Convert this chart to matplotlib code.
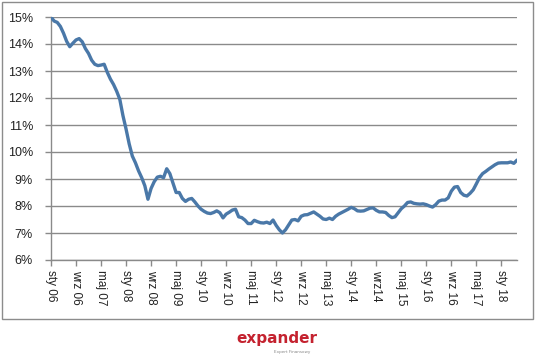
import matplotlib
matplotlib.use("Agg")
import matplotlib.pyplot as plt
from matplotlib.patches import Rectangle
import numpy as np

# monthly values, Jan 2006 .. Jun 2018 (%)
values = [
    15.0, 14.85, 14.8, 14.65, 14.4, 14.1, 13.9, 14.03, 14.15, 14.2,
    14.08, 13.83, 13.65, 13.4, 13.25, 13.2, 13.22, 13.25, 12.95, 12.7,
    12.5, 12.25, 11.95, 11.35, 10.85, 10.3, 9.85, 9.6, 9.3, 9.05,
    8.75, 8.25, 8.65, 8.9, 9.07, 9.1, 9.05, 9.38, 9.2, 8.85,
    8.5, 8.5, 8.28, 8.17, 8.25, 8.28, 8.15, 8.0, 7.88, 7.8,
    7.74, 7.72, 7.76, 7.82, 7.75, 7.56, 7.7, 7.77, 7.85, 7.88,
    7.6, 7.57, 7.48, 7.35, 7.35, 7.47, 7.42, 7.38, 7.37, 7.4,
    7.35, 7.48, 7.28, 7.12, 7.0, 7.12, 7.3, 7.48, 7.5, 7.45,
    7.62, 7.67, 7.68, 7.73, 7.78, 7.7, 7.62, 7.52, 7.5, 7.55,
    7.5, 7.62, 7.7, 7.76, 7.82, 7.88, 7.95, 7.9, 7.82, 7.81,
    7.82, 7.87, 7.92, 7.93, 7.84, 7.78, 7.78, 7.76, 7.65, 7.57,
    7.6, 7.75, 7.9, 8.0, 8.13, 8.15, 8.1, 8.08, 8.07, 8.08,
    8.05, 8.0, 7.96, 8.05, 8.18, 8.22, 8.22, 8.3, 8.55, 8.7,
    8.72, 8.5, 8.4, 8.37, 8.47, 8.6, 8.82, 9.05, 9.2, 9.28,
    9.37, 9.45, 9.53, 9.59, 9.6, 9.6, 9.6, 9.63, 9.58, 9.7,
]
tick_labels = [
    "sty 06", "wrz 06", "maj 07", "sty 08", "wrz 08", "maj 09", "sty 10",
    "wrz 10", "maj 11", "sty 12", "wrz 12", "maj 13", "sty 14", "wrz14",
    "maj 15", "sty 16", "wrz 16", "maj 17", "sty 18",
]
y_ticks = [6, 7, 8, 9, 10, 11, 12, 13, 14, 15]

W, H = 536, 360
fig = plt.figure(figsize=(W / 100, H / 100), dpi=100)
fig.patch.set_facecolor("white")

# outer chart border
fig.patches.append(Rectangle((2 / W, 1 - 319 / H), 531 / W, 317 / H,
                             transform=fig.transFigure, fill=False,
                             edgecolor="#8c8c8c", linewidth=1.0))

ax = fig.add_axes([51 / W, 1 - 260 / H, (517 - 51) / W, (260 - 17) / H])
x = np.arange(len(values))
ax.plot(x, values, color="#4a78a8", linewidth=2.4, solid_capstyle="round",
        zorder=3)

ax.set_xlim(0, len(values) - 1)
ax.set_ylim(6, 15)
ax.set_yticks(y_ticks)
ax.set_yticklabels([f"{v}%" for v in y_ticks], fontsize=9,
                   family="Liberation Sans", color="#222222")
ax.set_xticks(np.arange(0, len(values), 8))
ax.set_xticklabels(tick_labels, rotation=270, fontsize=8.5,
                   family="Liberation Sans", color="#222222")
ax.grid(axis="y", color="#8a8a8a", linewidth=1.0)
ax.set_axisbelow(True)
for s in ["top", "right"]:
    ax.spines[s].set_visible(False)
for s in ["left", "bottom"]:
    ax.spines[s].set_color("#8a8a8a")
    ax.spines[s].set_linewidth(1.0)
ax.tick_params(axis="both", color="#8a8a8a", length=4, width=1)
ax.tick_params(axis="y", pad=9)
ax.tick_params(axis="x", pad=3)

# logo
fig.text(277 / W, 1 - 339 / H, "expander", ha="center", va="center",
         fontsize=11, fontweight="bold", color="#c4222f",
         family="DejaVu Sans")
fig.text(292 / W, 1 - 352 / H, "Expert Finansowy", ha="center",
         va="center", fontsize=3, color="#888888")

fig.savefig("out.png", dpi=100)
